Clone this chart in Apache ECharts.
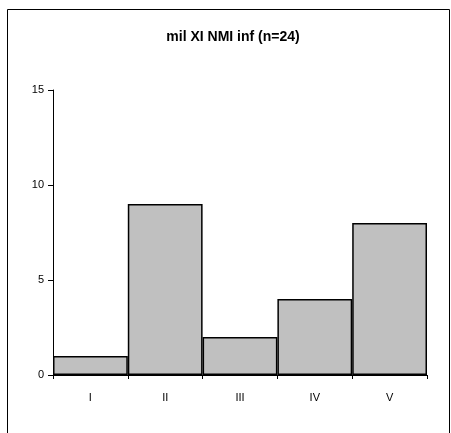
<!DOCTYPE html>
<html>
<head>
<meta charset="utf-8">
<script src="https://cdn.jsdelivr.net/npm/echarts@6/dist/echarts.min.js"></script>
<style>html,body{margin:0;padding:0;background:#fff}#c{width:451px;height:433px}</style>
</head>
<body>
<div id="c"></div>
<script>
const titleText = "mil XI NMI inf (n=24)";
const categories = ["I", "II", "III", "IV", "V"];
const values = [1, 9, 2, 4, 8];
const yTicks = [0, 5, 10, 15];

const chart = echarts.init(document.getElementById('c'), null, {renderer: 'canvas'});
chart.setOption({
  animation: false,
  backgroundColor: '#fff',
  title: {
    text: titleText,
    left: 228, textAlign: 'center', top: 25,
    textStyle: {fontFamily: 'Liberation Sans, Arial', fontWeight: 'bold', fontSize: 14, color: '#000'}
  },
  graphic: [{
    type: 'rect', silent: true,
    shape: {x: 7.5, y: 9.5, width: 442, height: 440},
    style: {fill: 'none', stroke: '#000', lineWidth: 1}
  }],
  grid: {left: 53, top: 90, right: 24, bottom: 58, containLabel: false},
  xAxis: {
    type: 'category', data: categories, boundaryGap: true,
    axisLine: {lineStyle: {color: '#000', width: 1}},
    axisTick: {show: true, length: 4, alignWithLabel: false, lineStyle: {color: '#000'}},
    axisLabel: {color: '#000', fontFamily: 'Liberation Sans, Arial', fontSize: 11, margin: 17}
  },
  yAxis: {
    type: 'value', min: yTicks[0], max: yTicks[yTicks.length - 1], interval: 5,
    splitLine: {show: false},
    axisLine: {show: true, lineStyle: {color: '#000', width: 1}},
    axisTick: {show: true, length: 5, lineStyle: {color: '#000'}},
    axisLabel: {color: '#000', fontFamily: 'Liberation Sans, Arial', fontSize: 11, margin: 9}
  },
  series: [{
    type: 'bar', data: values, barCategoryGap: '0%',
    itemStyle: {color: '#c0c0c0', borderColor: '#000', borderWidth: 1.5}
  }]
});
</script>
</body>
</html>
